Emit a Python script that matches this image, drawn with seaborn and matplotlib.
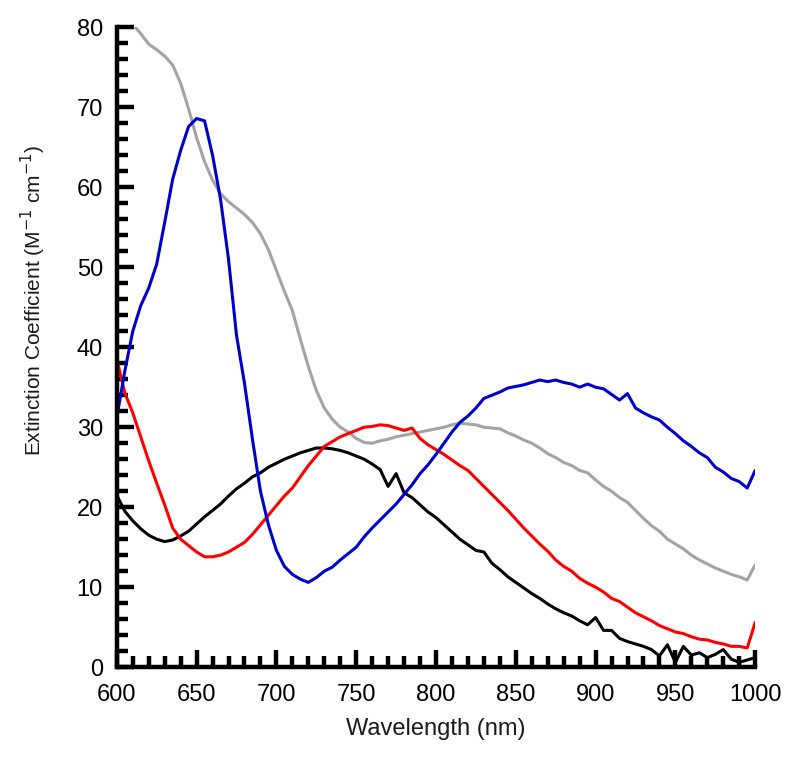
import numpy as np
import pandas as pd
import matplotlib
matplotlib.use("Agg")
import matplotlib.pyplot as plt
import seaborn as sns
from matplotlib.ticker import MultipleLocator

wavelength = list(range(600, 1001, 5))
gray_wavelength = list(range(610, 1001, 5))

gray = [80.4, 79.2, 77.9, 77.2, 76.4, 75.3, 73.0, 69.8, 66.2, 63.2,
        60.9, 59.2, 58.2, 57.4, 56.6, 55.6, 54.2, 52.2, 49.6, 47.0,
        44.6, 41.0, 37.6, 34.6, 32.4, 31.0, 30.0, 29.4, 28.6, 28.1,
        28.0, 28.3, 28.5, 28.8, 29.0, 29.2, 29.4, 29.6, 29.8, 30.0,
        30.3, 30.5, 30.4, 30.3, 30.0, 29.9, 29.8, 29.3, 28.9, 28.4,
        28.0, 27.4, 26.7, 26.2, 25.6, 25.2, 24.6, 24.3, 23.4, 22.6,
        22.0, 21.2, 20.6, 19.6, 18.6, 17.7, 17.0, 16.0, 15.4, 14.8,
        14.0, 13.4, 12.9, 12.4, 12.0, 11.6, 11.3, 10.9, 12.8]

blue = [31.2, 37.0, 42.0, 45.2, 47.4, 50.4, 55.6, 61.0, 64.6, 67.6,
        68.6, 68.3, 64.0, 58.5, 51.0, 41.5, 35.5, 28.5, 22.0, 17.8,
        14.6, 12.6, 11.6, 11.0, 10.6, 11.2, 12.0, 12.5, 13.4, 14.2,
        15.0, 16.3, 17.4, 18.4, 19.4, 20.4, 21.6, 22.8, 24.2, 25.3,
        26.6, 28.0, 29.4, 30.6, 31.4, 32.4, 33.6, 34.0, 34.4, 34.9,
        35.1, 35.3, 35.6, 35.9, 35.7, 35.9, 35.6, 35.4, 35.0, 35.4,
        35.0, 34.8, 34.1, 33.4, 34.2, 32.4, 31.8, 31.3, 30.9, 30.0,
        29.2, 28.3, 27.6, 26.8, 26.2, 25.0, 24.4, 23.6, 23.2, 22.4,
        24.6]

red = [38.5, 34.3, 31.8, 28.8, 25.8, 23.0, 20.3, 17.4, 16.0, 15.2,
       14.4, 13.8, 13.8, 14.0, 14.4, 15.0, 15.6, 16.6, 17.8, 19.0,
       20.2, 21.4, 22.4, 23.8, 25.2, 26.4, 27.6, 28.2, 28.8, 29.2,
       29.6, 30.0, 30.1, 30.3, 30.2, 29.9, 29.6, 29.9, 28.6, 27.8,
       27.2, 26.6, 25.9, 25.2, 24.6, 23.6, 22.6, 21.6, 20.6, 19.6,
       18.5, 17.4, 16.4, 15.4, 14.5, 13.4, 12.6, 12.0, 11.1, 10.5,
       10.0, 9.4, 8.6, 8.2, 7.5, 6.8, 6.3, 5.8, 5.2, 4.8,
       4.4, 4.2, 3.8, 3.5, 3.4, 3.1, 2.9, 2.6, 2.6, 2.4,
       5.6]

black = [21.5, 19.5, 18.3, 17.3, 16.5, 16.0, 15.7, 15.9, 16.4, 17.0,
         17.9, 18.8, 19.6, 20.4, 21.4, 22.3, 23.0, 23.8, 24.3, 25.0,
         25.5, 26.0, 26.4, 26.8, 27.1, 27.4, 27.4, 27.3, 27.1, 26.8,
         26.4, 26.0, 25.4, 24.7, 22.6, 24.2, 21.8, 21.2, 20.3, 19.4,
         18.7, 17.8, 16.9, 16.0, 15.3, 14.6, 14.4, 13.0, 12.2, 11.3,
         10.6, 9.9, 9.2, 8.6, 7.9, 7.3, 6.8, 6.4, 5.8, 5.3,
         6.2, 4.6, 4.6, 3.6, 3.2, 2.9, 2.6, 2.2, 1.4, 2.8,
         0.6, 2.6, 1.5, 1.8, 1.2, 1.6, 2.2, 1.0, 0.6, 0.9,
         1.2]

x_ticks = [600, 650, 700, 750, 800, 850, 900, 950, 1000]
y_ticks = [0, 10, 20, 30, 40, 50, 60, 70, 80]

sns.set_theme(style="ticks")
plt.rcParams['font.family'] = ['Liberation Sans', 'DejaVu Sans']

fig = plt.figure(figsize=(8.0, 7.59), dpi=100)
ax = fig.add_axes([0.146, 0.121, 0.798, 0.843])

lw = 2.2
sns.lineplot(x=gray_wavelength, y=gray, color="#a3a3a3", lw=lw, ax=ax, sort=False, estimator=None)
sns.lineplot(x=wavelength, y=black, color="#000000", lw=lw, ax=ax, sort=False, estimator=None)
sns.lineplot(x=wavelength, y=red, color="#ff0000", lw=lw, ax=ax, sort=False, estimator=None)
sns.lineplot(x=wavelength, y=blue, color="#0000cc", lw=lw, ax=ax, sort=False, estimator=None)

ax.set_xlim(600, 1000)
ax.set_ylim(0, 80)
ax.set_xticks(x_ticks)
ax.set_yticks(y_ticks)
ax.xaxis.set_minor_locator(MultipleLocator(10))
ax.yaxis.set_minor_locator(MultipleLocator(2))

for s in ["top", "right"]:
    ax.spines[s].set_visible(False)
for s in ["left", "bottom"]:
    ax.spines[s].set_linewidth(3.2)
    ax.spines[s].set_color("black")

ax.tick_params(axis="both", which="major", direction="in", length=12, width=3.2,
               labelsize=17, colors="black", pad=12)
ax.tick_params(axis="both", which="minor", direction="in", length=8, width=3.2, colors="black")
ax.tick_params(axis="y", which="major", pad=10)

ax.set_xlabel("Wavelength (nm)", fontsize=17, labelpad=9, color="#1a1a1a")
ax.set_ylabel("Extinction Coefficient (M$^{-1}$ cm$^{-1}$)", fontsize=15, color="#1a1a1a")
ax.yaxis.set_label_coords(-0.108, 0.573)

fig.savefig("out.png", dpi=100)
